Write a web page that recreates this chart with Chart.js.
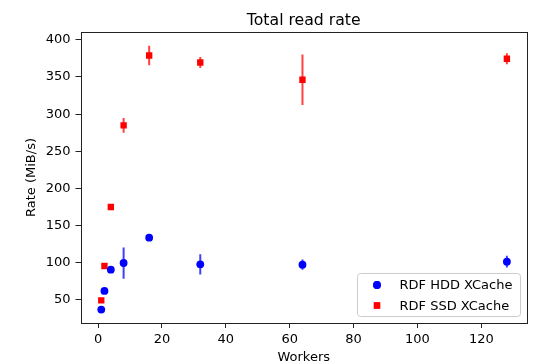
<!DOCTYPE html>
<html>
<head>
<meta charset="utf-8">
<script src="https://cdn.jsdelivr.net/npm/chart.js@4/dist/chart.umd.min.js"></script>
<style>
  html, body { margin: 0; padding: 0; background: #fff; }
  #wrap { width: 533px; height: 364px; }
</style>
</head>
<body>
<div id="wrap"><canvas id="c" width="533" height="364"></canvas></div>
<script>
const chartTitle = "Total read rate";
const xTitle = "Workers";
const yTitle = "Rate (MiB/s)";
const workers = [1, 2, 4, 8, 16, 32, 64, 128];
const hddLabel = "RDF HDD XCache";
const hddRate = [37.0, 62.1, 90.7, 99.7, 133.8, 97.9, 97.5, 101.5];
const hddErr  = [1.5, 1.5, 2, 21, 2, 13.5, 7, 8];
const ssdLabel = "RDF SSD XCache";
const ssdRate = [49.5, 95.7, 175.0, 284.8, 378.9, 369.5, 346.2, 374.5];
const ssdErr  = [1.5, 1.5, 2, 10, 13, 7.5, 34, 7.5];
const xTicks = [0, 20, 40, 60, 80, 100, 120];
const yTicks = [50, 100, 150, 200, 250, 300, 350, 400];

const FONT = "'DejaVu Sans', 'Liberation Sans', sans-serif";
const BLUE = '#0000ff', RED = '#ff0000';

const series = [
  { label: hddLabel, rate: hddRate, err: hddErr, color: BLUE, errColor: 'rgba(0,0,255,0.75)', style: 'circle', radius: 3.9 },
  { label: ssdLabel, rate: ssdRate, err: ssdErr, color: RED, errColor: 'rgba(255,0,0,0.75)', style: 'rect', radius: 4.5 }
];

const errorBars = {
  id: 'errorBars',
  beforeDatasetsDraw(chart) {
    const { ctx, scales: { x, y }, chartArea } = chart;
    ctx.save();
    ctx.beginPath();
    ctx.rect(chartArea.left, chartArea.top, chartArea.right - chartArea.left, chartArea.bottom - chartArea.top);
    ctx.clip();
    ctx.lineWidth = 2;
    series.forEach(s => {
      ctx.strokeStyle = s.errColor;
      workers.forEach((w, i) => {
        const px = x.getPixelForValue(w);
        ctx.beginPath();
        ctx.moveTo(px, y.getPixelForValue(s.rate[i] - s.err[i]));
        ctx.lineTo(px, y.getPixelForValue(s.rate[i] + s.err[i]));
        ctx.stroke();
      });
    });
    ctx.restore();
  }
};

const decorations = {
  id: 'decorations',
  afterDraw(chart) {
    const { ctx, chartArea: a } = chart;
    ctx.save();
    // spines
    ctx.strokeStyle = '#222';
    ctx.lineWidth = 1;
    ctx.strokeRect(Math.round(a.left) + 0.5, Math.round(a.top) + 0.5,
                   Math.round(a.right) - Math.round(a.left), Math.round(a.bottom) - Math.round(a.top));
    // title
    ctx.fillStyle = '#000';
    ctx.font = '15.7px ' + FONT;
    ctx.textAlign = 'center';
    ctx.textBaseline = 'alphabetic';
    ctx.fillText(chartTitle, (a.left + a.right) / 2, a.top - 7);
    // legend
    const bw = 163, bh = 43;
    const bx = a.right - 7 - bw, by = a.bottom - 7 - bh;
    ctx.beginPath();
    if (ctx.roundRect) ctx.roundRect(bx + 0.5, by + 0.5, bw, bh, 3); else ctx.rect(bx + 0.5, by + 0.5, bw, bh);
    ctx.fillStyle = 'rgba(255,255,255,0.8)';
    ctx.fill();
    ctx.strokeStyle = '#cccccc';
    ctx.lineWidth = 1;
    ctx.stroke();
    ctx.font = '13px ' + FONT;
    ctx.textAlign = 'left';
    ctx.textBaseline = 'middle';
    series.forEach((s, i) => {
      const cy = by + 12 + i * 20.5;
      ctx.fillStyle = s.color;
      Chart.helpers.drawPoint(ctx, { pointStyle: s.style, radius: s.radius, borderWidth: 0 }, bx + 20, cy);
      ctx.fill();
      ctx.fillStyle = '#000';
      ctx.fillText(s.label, bx + 42.5, cy + 1);
    });
    ctx.restore();
  }
};

const tickOpts = { color: '#000', font: { family: FONT, size: 13 } };

new Chart(document.getElementById('c'), {
  type: 'scatter',
  data: {
    datasets: series.map(s => ({
      label: s.label,
      data: workers.map((w, i) => ({ x: w, y: s.rate[i] })),
      pointStyle: s.style,
      pointRadius: s.radius,
      pointHoverRadius: s.radius,
      backgroundColor: s.color,
      borderColor: s.color,
      borderWidth: 0,
      showLine: false
    }))
  },
  options: {
    responsive: false,
    animation: false,
    events: [],
    layout: { padding: { left: 0, right: 6, top: 32, bottom: 0 } },
    plugins: { legend: { display: false }, tooltip: { enabled: false }, title: { display: false } },
    scales: {
      x: {
        type: 'linear', min: -5.5, max: 134.3,
        afterBuildTicks: sc => { sc.ticks = xTicks.map(v => ({ value: v })); },
        afterFit: sc => { sc.height = 41; },
        ticks: Object.assign({ padding: 4, maxRotation: 0, autoSkip: false }, tickOpts),
        grid: { display: true, drawOnChartArea: false, drawTicks: true, tickLength: 5, color: '#222', lineWidth: 1 },
        border: { display: false },
        title: { display: true, text: xTitle, color: '#000', font: { family: FONT, size: 13, lineHeight: 1 }, padding: { top: 0, bottom: 0 } }
      },
      y: {
        type: 'linear', min: 19, max: 410.5,
        afterBuildTicks: sc => { sc.ticks = yTicks.map(v => ({ value: v })); },
        afterFit: sc => { sc.width = 80.5; },
        ticks: Object.assign({ padding: 5, autoSkip: false }, tickOpts),
        grid: { display: true, drawOnChartArea: false, drawTicks: true, tickLength: 5, color: '#222', lineWidth: 1 },
        border: { display: false },
        title: { display: true, text: yTitle, color: '#000', font: { family: FONT, size: 13 }, padding: { top: 24, bottom: 0 } }
      }
    }
  },
  plugins: [errorBars, decorations]
});
</script>
</body>
</html>
